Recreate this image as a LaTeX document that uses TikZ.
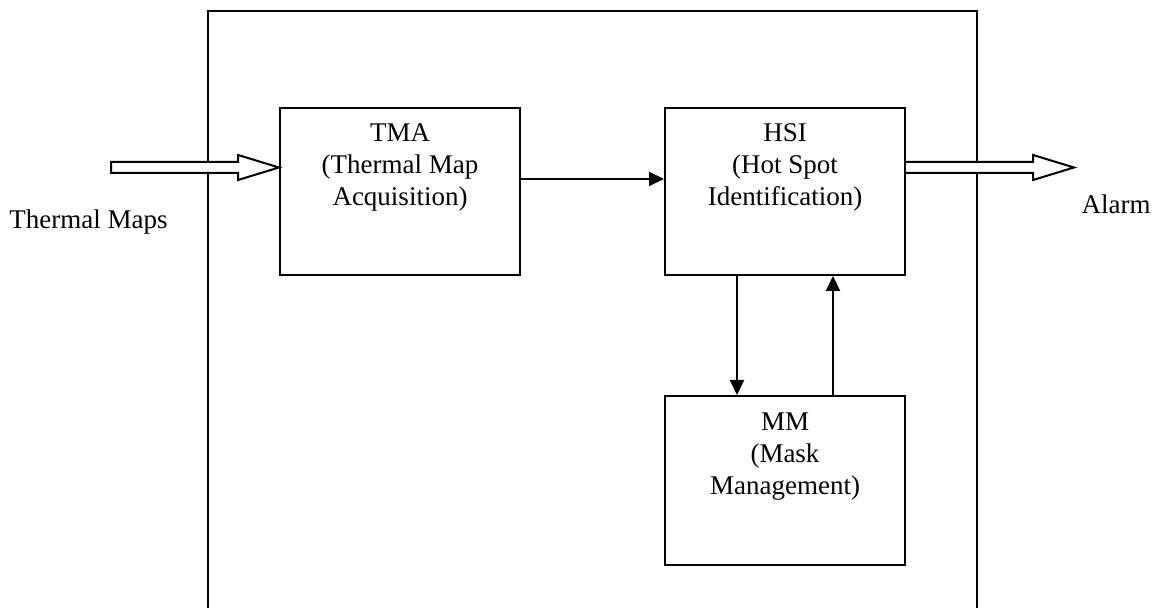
\documentclass[tikz,border=0pt]{standalone}
\usepackage{fontspec}
\setmainfont{Liberation Serif}
\usetikzlibrary{arrows.meta,calc}
\begin{document}
\begin{tikzpicture}[x=0.5pt,y=-0.5pt,
        bloque/.style={draw, line width=1pt, inner sep=0pt},
        texto/.style={font=\fontsize{13.5}{16}\selectfont, align=center, inner sep=0pt},
        flecha/.style={line width=1pt, -{Triangle[length=7.5pt,width=7pt]}},
        hueca/.style={draw, line width=1pt, fill=white, line join=miter}]
    \useasboundingbox (0,0) rectangle (1156,608);
    % Caja exterior (abierta por abajo)
    \draw [line width=1pt] (208,612) -- (208,11) -- (977,11) -- (977,612);
    % Bloques
    \node [bloque, minimum width=120pt, minimum height=83.5pt] (tma) at (400,191.5) {};
    \node [bloque, minimum width=120pt, minimum height=83.5pt] (hsi) at (785,191.5) {};
    \node [bloque, minimum width=120pt, minimum height=84.5pt] (mm) at (785,480.5) {};
    \node [texto, anchor=north, yshift=-8pt] (tmatext) at (tma.north) {TMA\\(Thermal Map\\Acquisition)};
    \node [texto, anchor=north, yshift=-8pt] (hsitext) at (hsi.north) {HSI\\(Hot Spot\\Identification)};
    \node [texto, anchor=north, yshift=-8.5pt] (mmtext) at (mm.north) {MM\\(Mask\\Management)};
    \node [texto, anchor=base] (maps) at (88.5,229) {Thermal Maps};
    \node [texto, anchor=base] (alarm) at (1116,214) {Alarm};
    % Flechas huecas
    \coordinate (entra) at (tma.west |- 0,167.5);
    \coordinate (sale) at (hsi.east |- 0,167.5);
    \draw [hueca] (entra) -- ++(-41,-12.5) -- ++(0,7) -- ++(-127,0) -- ++(0,11)
        -- ++(127,0) -- ++(0,7) -- cycle;
    \draw [hueca] ($(sale)+(0,-5.5)$) -- ++(127,0) -- ++(0,-7) -- ++(41,12.5)
        -- ++(-41,12.5) -- ++(0,-7) -- ++(-127,0);
    % Conexiones
    \draw [flecha] (tma.east |- 0,179) -- (hsi.west |- 0,179);
    \draw [flecha] (hsi.south -| 737,0) -- (mm.north -| 737,0);
    \draw [flecha] (mm.north -| 833,0) -- (hsi.south -| 833,0);
\end{tikzpicture}
\end{document}
